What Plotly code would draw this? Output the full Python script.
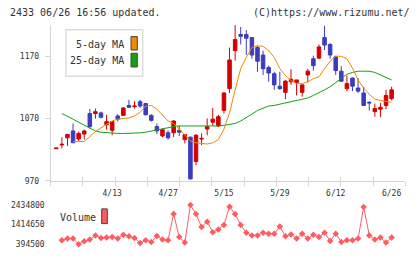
import plotly.graph_objects as go

W, H = 420, 259

# ---------------- data ----------------
dates = ["3/30", "3/31", "4/1", "4/2", "4/3", "4/6", "4/7", "4/8", "4/9", "4/10",
         "4/13", "4/14", "4/15", "4/16", "4/17", "4/20", "4/21", "4/22", "4/23", "4/24",
         "4/27", "4/28", "4/30", "5/1", "5/7", "5/8", "5/11", "5/12", "5/13", "5/14",
         "5/15", "5/18", "5/19", "5/20", "5/21", "5/22", "5/25", "5/26", "5/27", "5/28",
         "5/29", "6/1", "6/2", "6/3", "6/4", "6/5", "6/8", "6/9", "6/10", "6/11",
         "6/12", "6/15", "6/16", "6/17", "6/18", "6/19", "6/22", "6/23", "6/24", "6/25",
         "6/26"]

opens = [1021.5, 1027.5, 1039, 1050, 1037, 1045, 1078, 1078, 1079, 1060,
         1051, 1074, 1075, 1091, 1089, 1097, 1094, 1075, 1057, 1042,
         1047, 1047, 1051, 1036, 1040, 1001, 1037, 1053, 1064, 1058,
         1083, 1118, 1179, 1205, 1205, 1200, 1184, 1172, 1152, 1142,
         1122, 1112, 1129, 1128, 1112, 1140, 1166, 1167, 1200, 1189,
         1169, 1146, 1118, 1135, 1119, 1111, 1096, 1081, 1085, 1091,
         1102]
highs = [1022.5, 1040, 1044.5, 1062, 1049, 1052, 1085, 1086, 1081, 1076,
         1065, 1077, 1088, 1100, 1098, 1100, 1095, 1077, 1062, 1054,
         1051, 1067, 1059, 1045, 1041, 1045, 1046, 1070, 1087, 1076,
         1112, 1184, 1220, 1217, 1212, 1200, 1187, 1179, 1155, 1145,
         1145, 1132, 1149, 1132, 1125, 1150, 1171, 1189, 1219, 1191,
         1171, 1154, 1139, 1136, 1135, 1121, 1098, 1094, 1095, 1116,
         1121]
lows = [1021.5, 1022, 1026, 1031, 1034, 1036, 1054, 1070, 1070, 1052,
        1043, 1065, 1074, 1087, 1086, 1087, 1075, 1065, 1045, 1040,
        1036, 1040, 1042, 1030, 972, 995, 1027, 1043, 1058, 1056,
        1078, 1111, 1163, 1189, 1172, 1166, 1145, 1140, 1129, 1116,
        1116, 1101, 1124, 1107, 1105, 1128, 1147, 1166, 1180, 1166,
        1140, 1129, 1114, 1114, 1111, 1090, 1083, 1073, 1072, 1085,
        1099]
closes = [1022.5, 1028.5, 1044.5, 1031, 1046, 1050, 1057, 1081, 1072, 1065,
          1065, 1069, 1087, 1088, 1090, 1090, 1076, 1067, 1050, 1052,
          1039, 1066, 1048, 1044, 973, 1043, 1038, 1057, 1069, 1073,
          1111, 1164, 1197, 1202, 1199, 1172, 1162, 1150, 1143, 1124,
          1118, 1130, 1133, 1132, 1124, 1146, 1155, 1185, 1188, 1172,
          1147, 1130, 1126, 1122, 1114, 1091, 1095, 1086, 1088, 1107,
          1116]

ma5 = [None, None, None, 1033, 1033, 1033, 1041, 1049, 1055, 1061,
       1066, 1069, 1070, 1071, 1074, 1080, 1090, 1091, 1085, 1075,
       1066, 1062, 1053, 1043, 1034, 1031, 1030, 1029, 1031, 1036,
       1053, 1079, 1116, 1150, 1168, 1184, 1187, 1186, 1179, 1168,
       1150, 1139, 1131, 1126, 1126, 1129, 1134, 1137, 1150, 1162,
       1170, 1170, 1166, 1151, 1132, 1119, 1109, 1101, 1099, 1098,
       1096]
ma25 = [None, 1078, 1074, 1069, 1064, 1059, 1054, 1050, 1048, 1047,
        1046, 1046, 1046, 1046, 1046, 1047, 1048, 1050, 1052, 1053,
        1055, 1057, 1058, 1058, 1058, 1058, 1058, 1057, 1057, 1058,
        1059, 1060, 1062, 1066, 1071, 1077, 1083, 1087, 1090, 1091,
        1093, 1094, 1096, 1098, 1100, 1103, 1107, 1111, 1116, 1121,
        1128, 1135, 1141, 1144, 1146, 1146, 1146, 1144, 1140, 1136,
        1132]
volume = [None, 598500, 685000, 685000, 394500, 547000, 634000, 853000, 716000, 736000,
          767000, 685000, 889000, 803000, 716000, 461000, 598000, 512000, 818000, 634000,
          598000, 1960000, 767000, 481000, 2434800, 1960000, 1290000, 1568000, 1022000, 1160000,
          1399000, 2348000, 1960000, 1399000, 991000, 853000, 853000, 991000, 940000, 940000,
          1313000, 803000, 905000, 685000, 940000, 685000, 889000, 767000, 991000, 563000,
          940000, 512000, 598000, 598000, 685000, 2333000, 853000, 634000, 736000, 481000,
          736000]

label_dates = ["4/13", "4/27", "5/15", "5/29", "6/12", "6/26"]
price_ticks = [970, 1070, 1170]
vol_ticks = [394500, 1414650, 2434800]

# ---------------- styling helpers ----------------
FONT = "DejaVu Sans Mono"
TXT = "#333333"
AXC = "#d4d4d4"
RED = "#d40000"
BLUE = "#3c3cbe"
ORANGE = "#f08a00"
GREEN = "#11a311"
VOLC = "#ff5c62"


def px(x):
    return x / W


def py(y):
    return 1 - y / H


x = list(range(len(dates)))
label_idx = [dates.index(d) for d in label_dates]
xr = [-1.0, 62.45]
deco_ticks = [xr[0] + k * (xr[1] - xr[0]) / 11 for k in range(12)]
xdom = [px(50.7), px(405.3)]

fig = go.Figure()

fig.add_trace(go.Candlestick(
    x=x, open=opens, high=highs, low=lows, close=closes,
    increasing=dict(line=dict(color=RED, width=1), fillcolor=RED),
    decreasing=dict(line=dict(color=BLUE, width=1), fillcolor=BLUE),
    whiskerwidth=0, showlegend=False, xaxis="x", yaxis="y"))
fig.add_trace(go.Scatter(x=x, y=ma25, mode="lines", line=dict(color=GREEN, width=1),
                         showlegend=False, xaxis="x", yaxis="y"))
fig.add_trace(go.Scatter(x=x, y=ma5, mode="lines", line=dict(color=ORANGE, width=1),
                         showlegend=False, xaxis="x", yaxis="y"))
fig.add_trace(go.Scatter(x=x, y=volume, mode="lines+markers",
                         line=dict(color=VOLC, width=1),
                         marker=dict(symbol="diamond", size=5, color=VOLC),
                         showlegend=False, xaxis="x2", yaxis="y2"))
# dummy trace for the overlay axis carrying the inside half of the x ticks
fig.add_trace(go.Scatter(x=[None], y=[None], xaxis="x3", yaxis="y", showlegend=False))

shapes = [
    # MA legend box
    dict(type="rect", xref="paper", yref="paper", x0=px(66), x1=px(142.7), y0=py(77.7), y1=py(30.3),
         line=dict(color="#dddddd", width=1.5), fillcolor="white", layer="above"),
    dict(type="rect", xref="paper", yref="paper", x0=px(131), x1=px(137.3), y0=py(51), y1=py(37.3),
         line=dict(color="#444444", width=1), fillcolor=ORANGE, layer="above"),
    dict(type="rect", xref="paper", yref="paper", x0=px(131), x1=px(137.3), y0=py(68.3), y1=py(54.3),
         line=dict(color="#444444", width=1), fillcolor=GREEN, layer="above"),
    # volume legend swatch
    dict(type="rect", xref="paper", yref="paper", x0=px(101.7), x1=px(107.3), y0=py(228), y1=py(213),
         line=dict(color="#444444", width=1), fillcolor=VOLC, layer="above"),
]

annotations = [
    dict(text="2433 06/26 16:56 updated.", xref="paper", yref="paper", x=px(8), y=py(13),
         xanchor="left", yanchor="middle", showarrow=False, font=dict(family=FONT, size=10, color=TXT)),
    dict(text="(C)https://www.rizumu.net/", xref="paper", yref="paper", x=px(411.5), y=py(13),
         xanchor="right", yanchor="middle", showarrow=False, font=dict(family=FONT, size=10, color=TXT)),
    dict(text="5-day MA", xref="paper", yref="paper", x=px(126), y=py(45),
         xanchor="right", yanchor="middle", showarrow=False, font=dict(family=FONT, size=10, color=TXT)),
    dict(text="25-day MA", xref="paper", yref="paper", x=px(126), y=py(62),
         xanchor="right", yanchor="middle", showarrow=False, font=dict(family=FONT, size=10, color=TXT)),
    dict(text="Volume", xref="paper", yref="paper", x=px(58), y=py(221.5),
         xanchor="left", yanchor="middle", showarrow=False, font=dict(family=FONT, size=10, color=TXT)),
]

tickfont = dict(family=FONT, size=8, color=TXT)

fig.update_layout(
    width=W, height=H, margin=dict(l=0, r=0, t=0, b=0),
    paper_bgcolor="white", plot_bgcolor="white",
    boxgap=0.1, showlegend=False,
    shapes=shapes, annotations=annotations,
    xaxis=dict(domain=xdom, range=xr, anchor="y", showgrid=False, zeroline=False,
               showline=True, linecolor=AXC, linewidth=1,
               tickmode="array", tickvals=deco_ticks, ticks="outside", ticklen=4, tickcolor=AXC,
               showticklabels=False, rangeslider=dict(visible=False), fixedrange=True),
    xaxis3=dict(overlaying="x", range=xr, anchor="y", showgrid=False, zeroline=False,
                showline=False, tickmode="array", tickvals=deco_ticks, ticks="inside",
                ticklen=4, tickcolor=AXC, showticklabels=False),
    yaxis=dict(domain=[py(184.3), py(25)], range=[970, 1221], anchor="x",
               showgrid=False, zeroline=False, showline=True, linecolor=AXC, linewidth=1,
               tickmode="array", tickvals=price_ticks, ticks="outside", ticklen=5, tickcolor=AXC,
               tickfont=tickfont, ticklabelstandoff=4),
    xaxis2=dict(domain=xdom, range=xr, anchor="y2", side="top", showgrid=False, zeroline=False,
                showline=False, tickmode="array", tickvals=label_idx, ticktext=label_dates,
                ticks="", tickfont=tickfont, ticklabelstandoff=2),
    yaxis2=dict(domain=[py(253), py(205)], range=[190470, 2638830], anchor="x2",
                showgrid=False, zeroline=False, showline=False,
                tickmode="array", tickvals=vol_ticks, tickformat="d", ticks="",
                tickfont=tickfont, ticklabelstandoff=5),
)

fig.write_html("out.html")
